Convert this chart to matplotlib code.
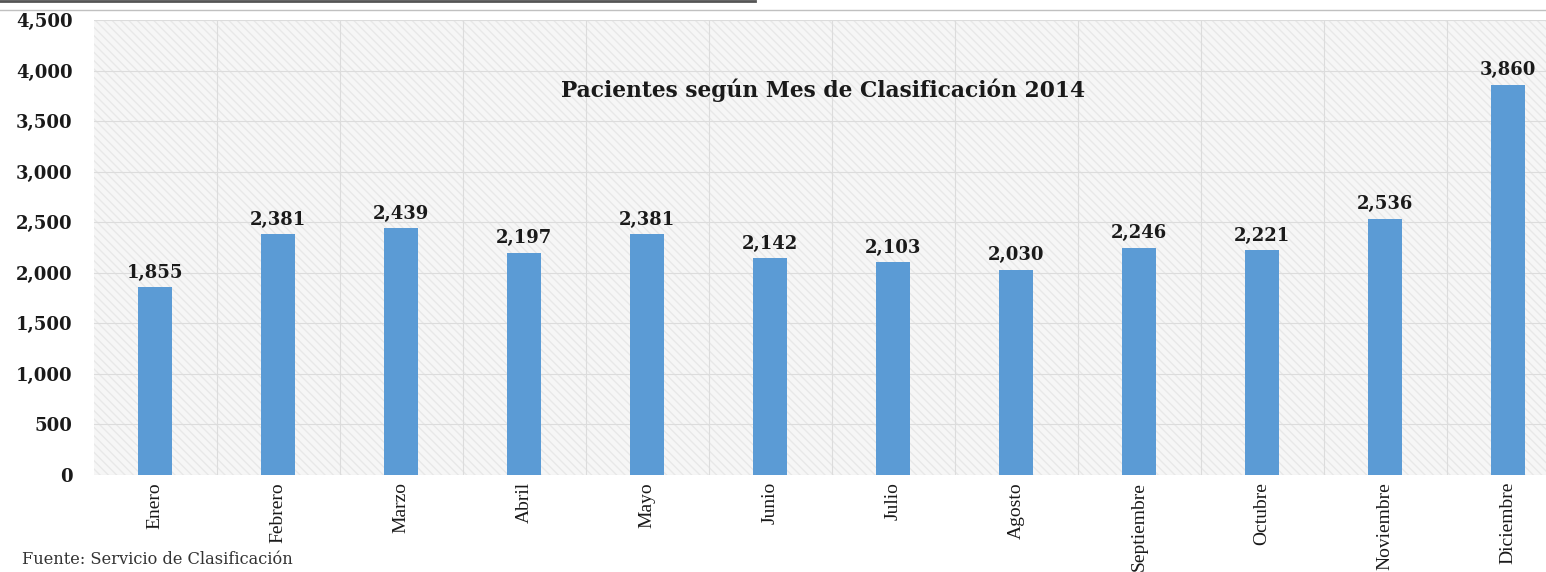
import numpy as np
import matplotlib
matplotlib.use('Agg')
import matplotlib.pyplot as plt
from matplotlib.patches import Rectangle
from matplotlib.lines import Line2D

months = ['Enero', 'Febrero', 'Marzo', 'Abril', 'Mayo', 'Junio', 'Julio',
          'Agosto', 'Septiembre', 'Octubre', 'Noviembre', 'Diciembre']
patients = [1855, 2381, 2439, 2197, 2381, 2142, 2103, 2030, 2246, 2221, 2536, 3860]
yticks = [0, 500, 1000, 1500, 2000, 2500, 3000, 3500, 4000, 4500]

num_font = 'DejaVu Serif'
txt_font = 'Liberation Serif'

fig = plt.figure(figsize=(15.46, 5.72), dpi=100)
# plot area runs past the right edge of the picture, as in the original crop
ax = fig.add_axes([93.5 / 1546, 1 - 475 / 572, 1476 / 1546, 455 / 572])

x = np.arange(len(months))

# hatched light background
ax.set_facecolor('white')
ax.add_patch(Rectangle((0, 0), 1, 1, transform=ax.transAxes, facecolor='#f6f6f6',
                       edgecolor='#e8e8e8', hatch='\\\\\\\\', lw=0, zorder=0))

ax.bar(x, patients, width=0.27, color='#5b9bd5', zorder=3)

for xi, v in zip(x, patients):
    ax.annotate(f'{v:,}', (xi, v), xytext=(0, 4), textcoords='offset points',
                ha='center', va='bottom', fontsize=13, fontweight='bold',
                family=num_font, color='#1a1a1a', zorder=4)

ax.set_xlim(-0.5, len(months) - 0.5)
ax.set_ylim(0, 4500)
ax.set_yticks(yticks)
ax.set_yticklabels([f'{t:,}' for t in yticks], fontsize=13, fontweight='bold',
                   family=num_font, color='#1a1a1a')
ax.set_xticks(x)
ax.set_xticklabels(months, rotation=90, fontsize=14, family=txt_font, color='#1a1a1a')
ax.tick_params(axis='y', length=0, pad=15)
ax.tick_params(axis='x', length=0, pad=5)

# grid: horizontal at ticks, vertical between categories
for t in yticks:
    ax.axhline(t, color='#dcdcdc', lw=0.8, zorder=1)
for b in np.arange(len(months)) + 0.5:
    ax.axvline(b, color='#dcdcdc', lw=0.8, zorder=1)
for s in ax.spines.values():
    s.set_visible(False)

fig.text(823 / 1546, 1 - 90 / 572, 'Pacientes según Mes de Clasificación 2014',
         ha='center', va='center', fontsize=15.7, fontweight='bold',
         family=num_font, color='#1a1a1a')

fig.text(22 / 1546, 1 - 560 / 572, 'Fuente: Servicio de Clasificación',
         ha='left', va='center', fontsize=11.7, family=num_font, color='#333333')

# lines at the top of the page
fig.add_artist(Line2D([0, 755 / 1546], [1 - 1 / 572, 1 - 1 / 572],
                      color='#555555', lw=2, transform=fig.transFigure))
fig.add_artist(Line2D([0, 1], [1 - 10 / 572, 1 - 10 / 572],
                      color='#c0c0c0', lw=1, transform=fig.transFigure))

fig.savefig('out.png', dpi=100)
